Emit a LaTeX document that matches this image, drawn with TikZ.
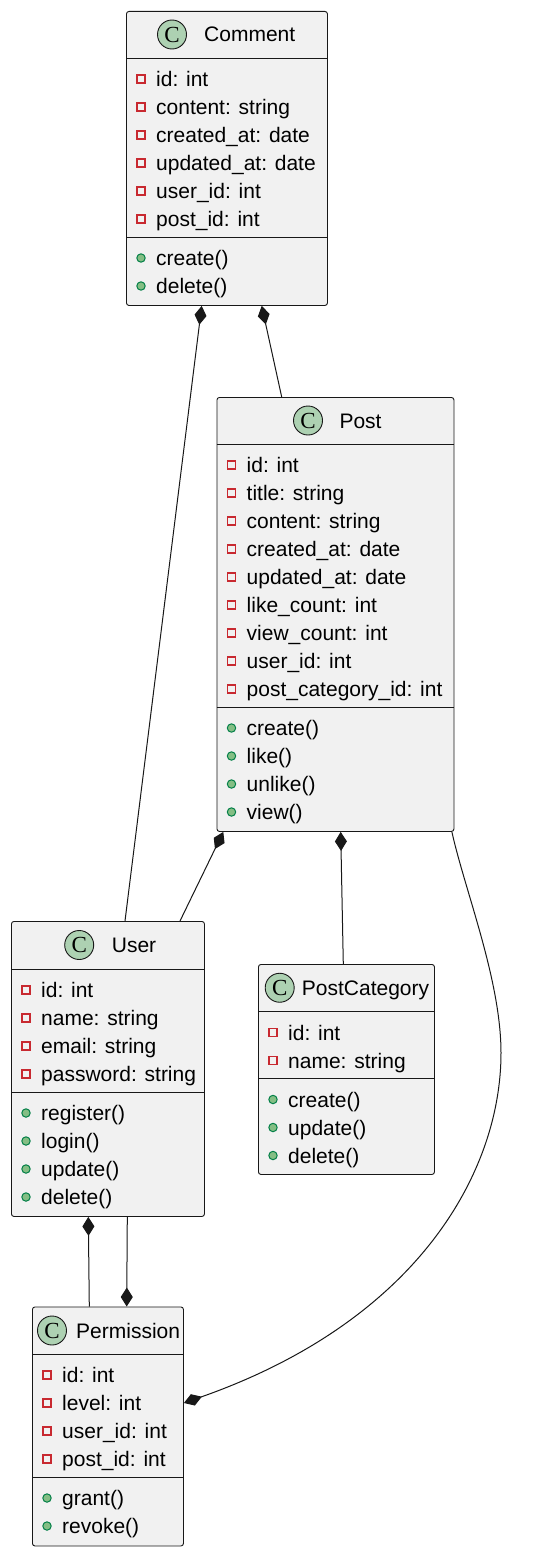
\documentclass[tikz,border=0pt]{standalone}
\usepackage{fontspec}
\setmainfont{Liberation Sans}
\newfontfamily\spotfont{Liberation Serif}
\usetikzlibrary{arrows.meta}
\definecolor{boxfill}{HTML}{F1F1F1}
\definecolor{boxline}{HTML}{181818}
\definecolor{spot}{HTML}{ADD1B2}
\definecolor{privred}{HTML}{C82930}
\definecolor{pubfill}{HTML}{84BE84}
\definecolor{publine}{HTML}{038048}
\tikzset{
  classbox/.style={draw=boxline, fill=boxfill, rounded corners=2.5pt, line width=0.9pt, inner sep=0pt, anchor=north west},
  divider/.style={draw=boxline, line width=0.9pt},
  spotc/.style={circle, draw=boxline, fill=spot, line width=0.9pt, minimum size=29pt, inner sep=0pt, font=\spotfont\fontsize{23}{23}\selectfont},
  title/.style={anchor=base west, inner sep=0pt, font=\fontsize{21}{24}\selectfont},
  attr/.style={anchor=base west, inner sep=0pt, font=\fontsize{21}{24}\selectfont},
  privmark/.style={draw=privred, line width=1.2pt},
  pubmark/.style={draw=publine, fill=pubfill, line width=1pt},
  comp/.style={draw=boxline, line width=1pt, >={Diamond[length=19pt,width=12pt]}}
}
\newcommand\umlpriv[3]{%
  \draw[privmark] (#1+11,#2-4) rectangle (#1+19,#2+4);
  \node[attr] at (#1+30,#2+7.5) {#3};}
\newcommand\umlpub[3]{%
  \draw[pubmark] (#1+15,#2) circle[radius=4.2];
  \node[attr] at (#1+30,#2+7.5) {#3};}
\begin{document}
\begin{tikzpicture}[x=1pt,y=-1pt]
\useasboundingbox (0,0) rectangle (537,1555);
\fill[white] (0,0) rectangle (537,1555);

% ---------- Comment ----------
\node[classbox, minimum width=201pt, minimum height=294pt] (comment) at (126,11) {};
\node[spotc] (commentspot) at (172,34.5) {C};
\node[title] (commenttitle) at (204,42) {Comment};
\draw[divider] (126,58) -- (327,58);
\umlpriv{126}{79}{id: int}
\umlpriv{126}{107}{content: string}
\umlpriv{126}{135}{created\_at: date}
\umlpriv{126}{163}{updated\_at: date}
\umlpriv{126}{191}{user\_id: int}
\umlpriv{126}{219}{post\_id: int}
\draw[divider] (126,237) -- (327,237);
\umlpub{126}{258}{create()}
\umlpub{126}{286}{delete()}

% ---------- Post ----------
\node[classbox, minimum width=237pt, minimum height=434pt] (post) at (216.5,397) {};
\node[spotc] (postspot) at (308,420.5) {C};
\node[title] (posttitle) at (339.3,428) {Post};
\draw[divider] (216.5,444) -- (453.5,444);
\umlpriv{216.5}{465}{id: int}
\umlpriv{216.5}{493}{title: string}
\umlpriv{216.5}{521}{content: string}
\umlpriv{216.5}{549}{created\_at: date}
\umlpriv{216.5}{577}{updated\_at: date}
\umlpriv{216.5}{605}{like\_count: int}
\umlpriv{216.5}{633}{view\_count: int}
\umlpriv{216.5}{661}{user\_id: int}
\umlpriv{216.5}{689}{post\_category\_id: int}
\draw[divider] (216.5,707) -- (453.5,707);
\umlpub{216.5}{728}{create()}
\umlpub{216.5}{756}{like()}
\umlpub{216.5}{784}{unlike()}
\umlpub{216.5}{812}{view()}

% ---------- User ----------
\node[classbox, minimum width=193pt, minimum height=295pt] (user) at (11,921) {};
\node[spotc] (userspot) at (79.2,945) {C};
\node[title] (usertitle) at (111.7,952.5) {User};
\draw[divider] (11,969) -- (204,969);
\umlpriv{11}{990}{id: int}
\umlpriv{11}{1018}{name: string}
\umlpriv{11}{1046}{email: string}
\umlpriv{11}{1074}{password: string}
\draw[divider] (11,1092) -- (204,1092);
\umlpub{11}{1113}{register()}
\umlpub{11}{1141}{login()}
\umlpub{11}{1169}{update()}
\umlpub{11}{1197}{delete()}

% ---------- PostCategory ----------
\node[classbox, minimum width=176pt, minimum height=210pt] (postcat) at (258,964) {};
\node[spotc] (postcatspot) at (279.7,987.75) {C};
\node[title] (postcattitle) at (301.7,995.3) {PostCategory};
\draw[divider] (258,1011.5) -- (434,1011.5);
\umlpriv{258}{1032.5}{id: int}
\umlpriv{258}{1060.5}{name: string}
\draw[divider] (258,1078.5) -- (434,1078.5);
\umlpub{258}{1099.5}{create()}
\umlpub{258}{1127.5}{update()}
\umlpub{258}{1155.5}{delete()}

% ---------- Permission ----------
\node[classbox, minimum width=151pt, minimum height=239pt] (permission) at (32,1306.5) {};
\node[spotc] (permspot) at (52,1330.5) {C};
\node[title] (permtitle) at (76,1338) {Permission};
\draw[divider] (32,1354) -- (183,1354);
\umlpriv{32}{1375}{id: int}
\umlpriv{32}{1403}{level: int}
\umlpriv{32}{1431}{user\_id: int}
\umlpriv{32}{1459}{post\_id: int}
\draw[divider] (32,1477) -- (183,1477);
\umlpub{32}{1498}{grant()}
\umlpub{32}{1526}{revoke()}

% ---------- Connectors ----------
\draw[comp,<-] ([xshift=75.7pt]comment.south west) -- ([xshift=114pt]user.north west);
\draw[comp,<-] ([xshift=135.7pt]comment.south west) -- ([xshift=65.2pt]post.north west);
\draw[comp,<-] ([xshift=6.8pt]post.south west) -- ([xshift=169pt]user.north west);
\draw[comp,<-] ([xshift=124.2pt]post.south west) -- ([xshift=85.3pt]postcat.north west);
\draw[comp,<-] ([xshift=77.3pt]user.south west) -- ([xshift=57.3pt]permission.north west);
\draw[comp,->] ([xshift=116.3pt]user.south west) -- ([xshift=94.7pt]permission.north west);
\draw[comp,->] ([xshift=-2.5pt]post.south east) .. controls (465,891) and (501,980) .. (501,1053)
  .. controls (501,1170) and (420,1320) .. ([yshift=-96.5pt]permission.north east);
\end{tikzpicture}
\end{document}
